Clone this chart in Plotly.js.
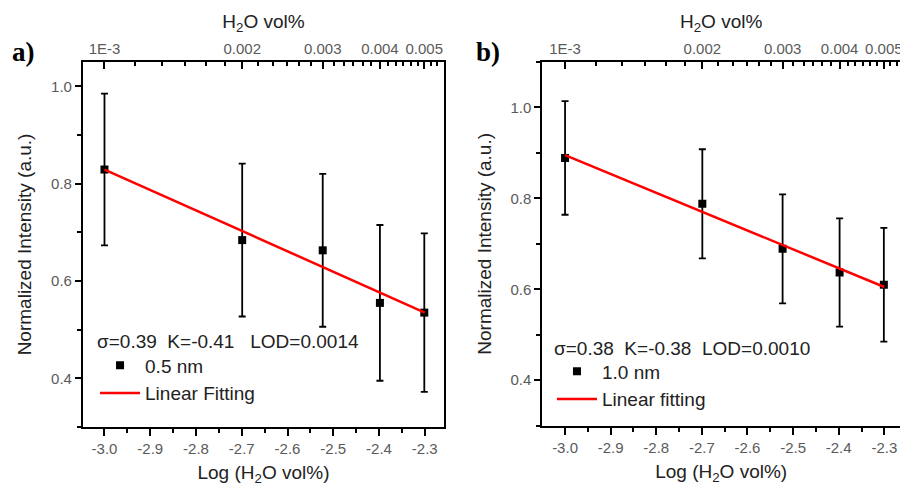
<!DOCTYPE html>
<html>
<head>
<meta charset="utf-8">
<script src="https://cdn.plot.ly/plotly-3.0.1.min.js"></script>
<style>html,body{margin:0;padding:0;background:#fff;}#chart{width:900px;height:488px;}</style>
</head>
<body>
<div id="chart"></div>
<script>
// ---- data ----
const logVol = [-3.0, -2.699, -2.523, -2.398, -2.301];      // Log (H2O vol%)
const volPct = [0.001, 0.002, 0.003, 0.004, 0.005];         // H2O vol%
const intensityA = [0.829, 0.684, 0.663, 0.555, 0.535];     // 0.5 nm
const errA = [0.156, 0.157, 0.157, 0.160, 0.163];
const fitXA = [-3.0, -2.3];
const fitYA = [0.829, 0.535];
const intensityB = [0.889, 0.788, 0.689, 0.637, 0.610];     // 1.0 nm
const errB = [0.125, 0.120, 0.120, 0.119, 0.125];
const fitXB = [-3.0, -2.3];
const fitYB = [0.895, 0.605];
const bottomTickVals = [-3.0, -2.9, -2.8, -2.7, -2.6, -2.5, -2.4, -2.3];
const bottomTickText = ['-3.0', '-2.9', '-2.8', '-2.7', '-2.6', '-2.5', '-2.4', '-2.3'];
const leftTickVals = [0.4, 0.6, 0.8, 1.0];
const leftTickText = ['0.4', '0.6', '0.8', '1.0'];
const topTickVals = [0.001, 0.002, 0.003, 0.004, 0.005];
const topTickText = ['1E-3', '0.002', '0.003', '0.004', '0.005'];
const topMinorVals = [0.0011667,0.0013333,0.0015,0.0016667,0.0018333,
  0.0021667,0.0023333,0.0025,0.0026667,0.0028333,
  0.0031667,0.0033333,0.0035,0.0036667,0.0038333,
  0.0041667,0.0043333,0.0045,0.0046667,0.0048333,
  0.0051667,0.0053333,0.0055];
const statsA = 'σ=0.39  K=-0.41   LOD=0.0014';
const statsB = 'σ=0.38  K=-0.38  LOD=0.0010';

const FONT = '"Liberation Sans", Arial, sans-serif';
const tickFont = {family: FONT, size: 15, color: '#5a5a5a'};
const titleFont = {family: FONT, size: 19, color: '#222'};
const textFont = {family: FONT, size: 19, color: '#222'};

function bottomAxis(domain, range, anchor) {
  return {
    domain: domain, range: range, anchor: anchor, showline: true, linecolor: '#000', linewidth: 2,
    ticks: 'outside', ticklen: 7, tickwidth: 2, tickcolor: '#000',
    tickmode: 'array', tickvals: bottomTickVals, ticktext: bottomTickText,
    minor: {dtick: 0.05, tick0: 0, ticks: 'outside', ticklen: 4, tickwidth: 2, tickcolor: '#000'},
    tickfont: tickFont, showgrid: false, zeroline: false, fixedrange: true, ticklabeloverflow: 'allow',
    title: {text: 'Log (H<sub>2</sub>O vol%)', font: titleFont, standoff: 10}
  };
}
function topAxis(over, range) {
  return {
    type: 'log', overlaying: over, side: 'top', anchor: over === 'x' ? 'y' : 'y2',
    range: range, showline: true, linecolor: '#000', linewidth: 2,
    ticks: 'inside', ticklen: 7, tickwidth: 2, tickcolor: '#000',
    tickmode: 'array', tickvals: topTickVals, ticktext: topTickText,
    minor: {tickmode: 'array', tickvals: topMinorVals, ticks: 'inside', ticklen: 4, tickwidth: 2, tickcolor: '#000'},
    tickfont: tickFont, showgrid: false, zeroline: false, fixedrange: true, ticklabeloverflow: 'allow',
    title: {text: 'H<sub>2</sub>O vol%', font: titleFont, standoff: 6}
  };
}
function leftAxis(domain, range, anchor, mirror) {
  return {
    domain: domain, range: range, anchor: anchor, showline: true, linecolor: '#000', linewidth: 2,
    mirror: mirror,
    ticks: 'outside', ticklen: 6, tickwidth: 2, tickcolor: '#000',
    tickmode: 'array', tickvals: leftTickVals, ticktext: leftTickText,
    minor: {dtick: 0.1, tick0: 0, ticks: 'outside', ticklen: 4, tickwidth: 2, tickcolor: '#000'},
    tickfont: tickFont, showgrid: false, zeroline: false, fixedrange: true,
    title: {text: 'Normalized Intensity (a.u.)', font: titleFont, standoff: 14}
  };
}

const traces = [
  {x: logVol, y: intensityA, xaxis: 'x', yaxis: 'y', type: 'scatter', mode: 'markers',
   name: '0.5 nm', legend: 'legend',
   marker: {symbol: 'square', size: 8, color: '#000'},
   error_y: {type: 'data', array: errA, visible: true, color: '#000', thickness: 1.8, width: 3.5},
   hoverinfo: 'skip'},
  {x: fitXA, y: fitYA, xaxis: 'x', yaxis: 'y', type: 'scatter', mode: 'lines',
   name: 'Linear Fitting', legend: 'legend',
   line: {color: '#f00', width: 2.5}, hoverinfo: 'skip'},
  {x: volPct, y: intensityA, xaxis: 'x3', yaxis: 'y', type: 'scatter', mode: 'markers',
   marker: {opacity: 0}, showlegend: false, hoverinfo: 'skip'},
  {x: logVol, y: intensityB, xaxis: 'x2', yaxis: 'y2', type: 'scatter', mode: 'markers',
   name: '1.0 nm', legend: 'legend2',
   marker: {symbol: 'square', size: 8, color: '#000'},
   error_y: {type: 'data', array: errB, visible: true, color: '#000', thickness: 1.8, width: 3.5},
   hoverinfo: 'skip'},
  {x: fitXB, y: fitYB, xaxis: 'x2', yaxis: 'y2', type: 'scatter', mode: 'lines',
   name: 'Linear fitting', legend: 'legend2',
   line: {color: '#f00', width: 2.5}, hoverinfo: 'skip'},
  {x: volPct, y: intensityB, xaxis: 'x4', yaxis: 'y2', type: 'scatter', mode: 'markers',
   marker: {opacity: 0}, showlegend: false, hoverinfo: 'skip'}
];

const rangeA = [-3.047, -2.258];
const rangeB = [-3.0498, -2.2656];

const layout = {
  width: 900, height: 488,
  margin: {l: 0, r: 0, t: 0, b: 0},
  paper_bgcolor: '#fff', plot_bgcolor: '#fff',
  font: {family: FONT},
  showlegend: true,
  xaxis: bottomAxis([0.0922, 0.4933], rangeA, 'y'),
  yaxis: leftAxis([0.125, 0.873], [0.3, 1.05], 'x', true),
  xaxis3: topAxis('x', rangeA),
  xaxis2: bottomAxis([0.6026, 1.0], rangeB, 'y2'),
  yaxis2: leftAxis([0.1277, 0.873], [0.3, 1.1], 'x2', false),
  xaxis4: topAxis('x2', rangeB),
  legend: {x: 0.1056, y: 0.29, xanchor: 'left', yanchor: 'top', bgcolor: 'rgba(0,0,0,0)',
           font: textFont, tracegroupgap: 0, itemwidth: 40},
  legend2: {x: 0.6133, y: 0.278, xanchor: 'left', yanchor: 'top', bgcolor: 'rgba(0,0,0,0)',
           font: textFont, tracegroupgap: 0, itemwidth: 40},
  annotations: [
    {text: statsA, xref: 'paper', yref: 'paper', x: 0.1056, y: 1 - 341/488, xanchor: 'left', yanchor: 'middle',
     showarrow: false, font: textFont},
    {text: statsB, xref: 'paper', yref: 'paper', x: 0.6133, y: 1 - 348/488, xanchor: 'left', yanchor: 'middle',
     showarrow: false, font: textFont},
    {text: '<b>a)</b>', xref: 'paper', yref: 'paper', x: 23/900, y: 1 - 52/488, xanchor: 'center', yanchor: 'middle',
     showarrow: false, font: {family: '"Liberation Serif", "Times New Roman", serif', size: 27, color: '#000'}},
    {text: '<b>b)</b>', xref: 'paper', yref: 'paper', x: 488/900, y: 1 - 52/488, xanchor: 'center', yanchor: 'middle',
     showarrow: false, font: {family: '"Liberation Serif", "Times New Roman", serif', size: 27, color: '#000'}}
  ]
};

Plotly.newPlot('chart', traces, layout, {staticPlot: true, displayModeBar: false});
</script>
</body>
</html>
